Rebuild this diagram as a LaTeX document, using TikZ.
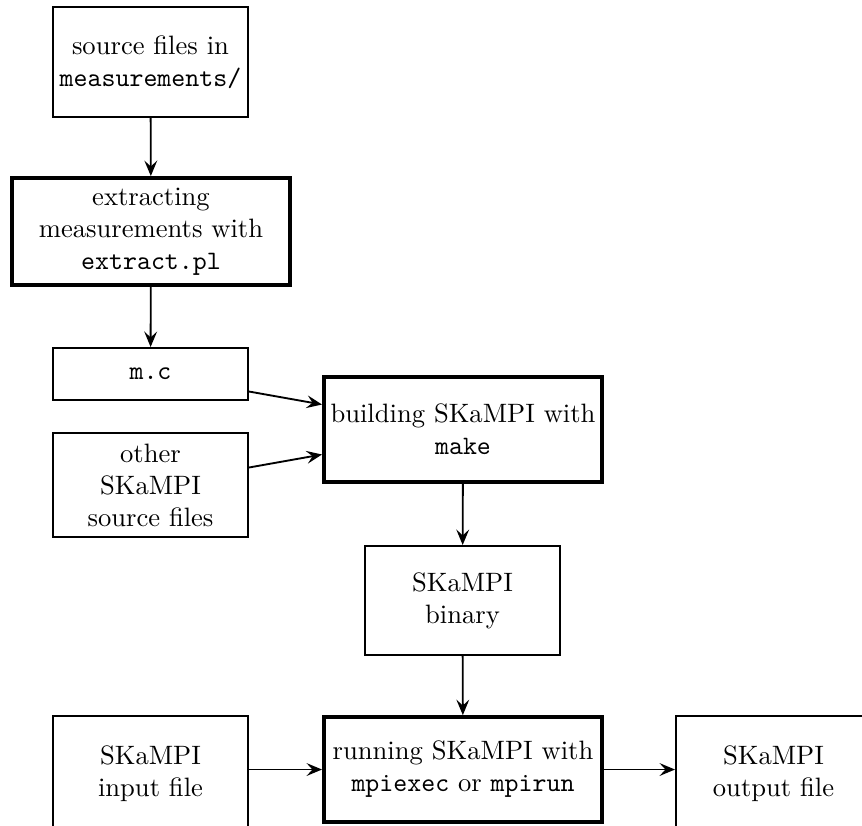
\documentclass[tikz,border=0pt]{standalone}
\usetikzlibrary{arrows.meta}
\begin{document}
\begin{tikzpicture}[x=0.37594pt,y=-0.37594pt,
  thinbox/.style={draw, line width=0.65pt, align=center, inner sep=2pt, minimum width=73.4pt, minimum height=41.1pt},
  thickbox/.style={draw, line width=1.6pt, align=center, inner sep=2pt, minimum width=104.4pt, minimum height=39.4pt},
  conn/.style={line width=0.7pt, -{Stealth[length=5.8pt,width=4.8pt,inset=2.2pt]}}]
\useasboundingbox (0,0) rectangle (862,825);
\clip (0,0) rectangle (862,825);
\node[thinbox, minimum height=41.45pt] (src) at (150.5,62) {source files in\\\texttt{measurements/}};
\node[thickbox, minimum height=40.1pt] (extract) at (151,231.5) {extracting\\measurements with\\\texttt{extract.pl}};
\node[thinbox, minimum height=19.65pt] (mc) at (150.5,374) {\texttt{m.c}};
\node[thinbox, minimum height=39.2pt] (other) at (150.5,485) {other\\SKaMPI\\source files};
\node[thickbox] (build) at (463,429.5) {building SKaMPI with\\\texttt{make}};
\node[thinbox] (binary) at (462.5,600.5) {SKaMPI\\binary};
\node[thickbox, minimum height=39.3pt] (run) at (463,769.5) {running SKaMPI with\\\texttt{mpiexec} or \texttt{mpirun}};
\node[thinbox, minimum height=43.7pt] (input) at (150.5,774) {SKaMPI\\input file};
\node[thinbox, minimum height=43.7pt] (output) at (773.5,774) {SKaMPI\\output file};
\draw[conn] (src) -- (extract);
\draw[conn] (extract) -- (mc);
\draw[conn] (mc) -- (build);
\draw[conn] (other) -- (build);
\draw[conn] (build) -- (binary);
\draw[conn] (binary) -- (run);
\draw[conn] (input.east |- run.west) -- (run.west);
\draw[conn] (run.east) -- (output.west |- run.east);
\end{tikzpicture}
\end{document}
